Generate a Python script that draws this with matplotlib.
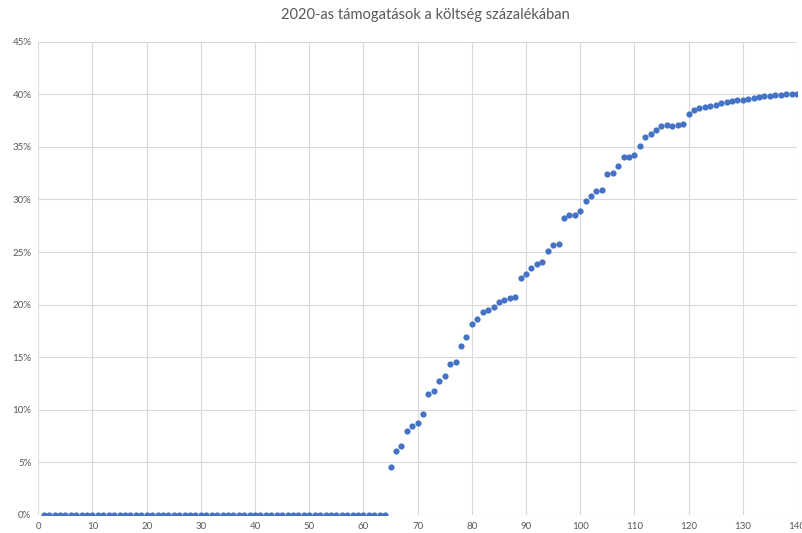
import matplotlib
matplotlib.use("Agg")
import matplotlib.pyplot as plt
from matplotlib.ticker import FuncFormatter, MultipleLocator

plt.rcParams['font.family'] = ['Lato', 'DejaVu Sans']

# x positions 1..140, share of cost (%)
x_vals = list(range(1, 141))
zeros = [0.0] * 64
rising = [4.6, 6.1, 6.6, 8.0, 8.5, 8.7, 9.6, 11.5, 11.8, 12.7,
          13.2, 14.4, 14.5, 16.1, 16.9, 18.2, 18.6, 19.3, 19.5, 19.8,
          20.25, 20.4, 20.6, 20.7, 22.55, 22.95, 23.5, 23.9, 24.05, 25.1,
          25.7, 25.8, 28.2, 28.55, 28.5, 28.9, 29.9, 30.35, 30.8, 30.9,
          32.4, 32.55, 33.2, 34.0, 34.08, 34.2, 35.1, 35.9, 36.22, 36.6,
          36.98, 37.04, 37.0, 37.1, 37.2, 38.1, 38.5, 38.65, 38.8, 38.9,
          39.0, 39.16, 39.3, 39.37, 39.42, 39.5, 39.52, 39.6, 39.7, 39.8,
          39.86, 39.9, 39.95, 40.0, 40.03, 40.05]
y_vals = zeros + rising

title = "2020-as támogatások a költség százalékában"
text_col = "#595959"
grid_col = "#d9d9d9"
dot_col = "#4472C4"

fig = plt.figure(figsize=(8.03, 5.33), dpi=100)
ax = fig.add_axes([0.0477, 0.0338, 0.9448, 0.888])

ax.scatter(x_vals, y_vals, s=20, color=dot_col, zorder=3, linewidths=0)

ax.set_xlim(0, 140)
ax.set_ylim(0, 45)
ax.xaxis.set_major_locator(MultipleLocator(10))
ax.yaxis.set_major_locator(MultipleLocator(5))
ax.yaxis.set_major_formatter(FuncFormatter(lambda v, p: f"{v:.0f}%"))
ax.grid(True, color=grid_col, linewidth=0.8, zorder=0)
ax.set_axisbelow(True)
for s in ax.spines.values():
    s.set_visible(False)
ax.tick_params(length=0, labelsize=7, colors=text_col, pad=5)

fig.suptitle(title, x=0.53, y=0.985, fontsize=10.5, color=text_col)

plt.savefig("out.png", dpi=100)
